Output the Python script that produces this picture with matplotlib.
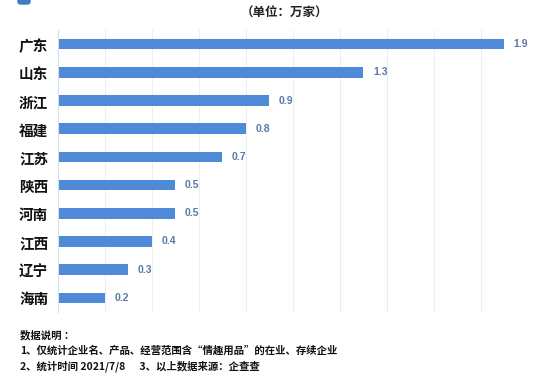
import matplotlib
matplotlib.use("Agg")
import matplotlib.pyplot as plt
from matplotlib.patches import FancyBboxPatch

plt.rcParams['font.family'] = ['Noto Sans CJK SC', 'DejaVu Sans']

# Data (unit: 10k companies)
provinces = ["广东", "山东", "浙江", "福建", "江苏", "陕西", "河南", "江西", "辽宁", "海南"]
counts = [1.9, 1.3, 0.9, 0.8, 0.7, 0.5, 0.5, 0.4, 0.3, 0.2]
value_labels = ["1.9", "1.3", "0.9", "0.8", "0.7", "0.5", "0.5", "0.4", "0.3", "0.2"]

bar_color = "#4f8ad9"
label_color = "#5b78a6"

fig = plt.figure(figsize=(5.54, 3.80), dpi=100)
ax = fig.add_axes([0.1047, 0.179, 0.8483, 0.742])

y = list(range(len(provinces)))
ax.barh(y, counts, height=0.37, color=bar_color)
for yi, v, lab in zip(y, counts, value_labels):
    ax.text(v + 0.04, yi, lab, va="center", ha="left", fontsize=7.5,
            color=label_color, fontweight="bold",
            family=["Liberation Sans", "DejaVu Sans"])

ax.set_yticks(y)
ax.set_yticklabels(provinces, fontsize=10.5, fontweight="bold", color="#111111")
ax.invert_yaxis()
ax.set_ylim(len(provinces) - 0.5, -0.5)
ax.set_xlim(0, 2.0)
ax.set_xticks([0.2 * k for k in range(1, 11)])
ax.set_xticklabels([])
ax.tick_params(axis="both", length=0, pad=7)
ax.grid(axis="x", color="#eeeeee", linewidth=0.8)
ax.set_axisbelow(True)
for s in ["top", "right", "bottom"]:
    ax.spines[s].set_visible(False)
ax.spines["left"].set_color("#d8dde6")
ax.spines["left"].set_linewidth(0.8)

# title
fig.text(0.513, 0.983, "（单位：万家）", ha="center", va="top", fontsize=9,
         fontweight="bold", color="#222222")

# small blue header mark
fig.patches.append(FancyBboxPatch((18 / 554, 1 - 4 / 380), 12 / 554, 6 / 380,
                                  boxstyle="round,pad=0,rounding_size=0.005",
                                  transform=fig.transFigure, color="#3b7cc4",
                                  clip_on=False))

# notes
notes = ["数据说明 ：",
         "1、仅统计企业名、产品、经营范围含“情趣用品”的在业、存续企业",
         "2、统计时间 2021/7/8      3、以上数据来源：企查查"]
for i, line in enumerate(notes):
    fig.text(20 / 554, 1 - (335 + i * 15.5) / 380, line, ha="left", va="center",
             fontsize=7.5, fontweight="bold", color="#111111")

fig.savefig("out.png", dpi=100)
